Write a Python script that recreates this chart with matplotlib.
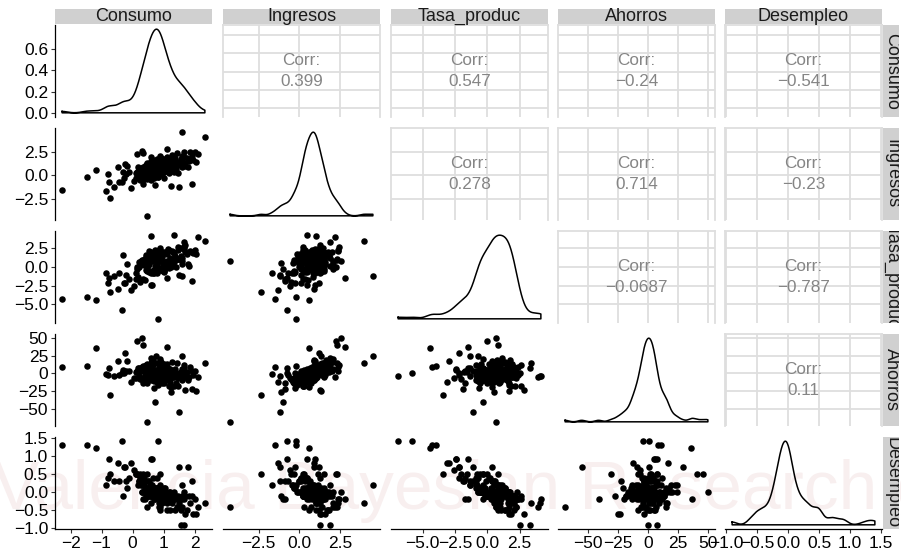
import numpy as np
import matplotlib
matplotlib.use("Agg")
import matplotlib.pyplot as plt

plt.rcParams['font.family'] = ['Liberation Sans', 'DejaVu Sans']

variables = ["Consumo", "Ingresos", "Tasa_produc", "Ahorros", "Desempleo"]

consumo = [
    0.62, 0.46, 0.88, -0.27, 1.90, 0.91, 0.79, 1.65, 1.32, 1.68, 1.12, 1.85, 1.45, 0.62, 0.30, -0.18, -0.45, 0.10,
    -2.27, -1.47, -1.18, -0.35, 0.83, 0.45, 1.60, 2.33, 2.10, -0.86, -0.77, -0.73, -0.80, -0.47, -0.25, -0.30,
    0.15, 0.30, 0.35, 1.10, 0.73, 1.50, 1.90, 1.25, 1.55, 1.65, 1.80, 0.60, 1.95, 0.60, 2.00, -0.60,
    -0.10, 0.05, -0.20, 0.25, 0.40, -0.05, 0.60, 0.18, 1.00, 0.35,
    0.95, 0.70, 1.20, 0.55, 0.85, 1.05, 0.40, 0.75, 1.35, 0.65,
    0.90, 0.50, 1.10, 0.80, 0.30, 1.45, 0.72, 0.98, 0.60, 1.25,
    0.45, 0.88, 1.60, 0.35, 0.78, 1.15, 0.58, 0.92, 0.20, 1.02,
    0.68, 1.38, 0.82, 0.48, 1.28, 0.62, 1.08, 0.85, 0.25, 1.75,
    0.74, 0.96, 0.55, 1.18, 0.42, 0.88, 1.50, 0.66, 0.80, 1.00,
    0.15, 1.22, 0.70, 0.92, 1.40, 0.52, 0.86, 1.12, 0.36, 0.76,
    1.55, 0.64, 0.98, 0.44, 1.30, 0.83, 0.10, 1.06, 0.58, 0.90,
    1.70, 0.72, 0.32, 1.16, 0.86, 0.50, 1.42, 0.68, 1.00, 0.80,
    0.60, 1.24, 0.94, 0.40, 1.60, 0.74, 1.08, 0.54, 0.88, 1.32,
    0.22, 0.78, 1.04, 0.62, 1.48, 0.84, 0.46, 1.20, 0.96, 0.70,
    1.82, 0.56, 0.90, 1.14, 0.38, 0.76, 1.36, 0.66, 1.02, 0.50,
    1.26, 0.82, 0.28, 1.58, 0.92, 0.60, 1.10, 0.72, 0.98, 1.66,
    0.44, 0.86, 1.18, 0.64, 2.05, 0.80, 0.54,
]

ingresos = [
    0.97, 1.17, 1.55, -0.26, 1.99, 1.45, 0.53, 1.16, 0.46, 1.03, 1.45, 2.40, 0.20, 1.05, 0.65, 0.95, -0.70, 0.25,
    -1.50, -0.20, 0.60, -0.75, -0.20, -4.27, 4.54, 4.00, 2.20, -1.70, -0.75, -2.35, 0.10, 0.90, 1.20, 0.30,
    2.25, 2.60, 2.30, 2.80, -1.00, -1.20, -0.90, -1.10, 1.30, 1.90, 0.90, 0.50, 1.60, 1.00, 2.40, -1.20,
    0.35, -0.60, 0.10, -0.50, 0.55, -1.30, -0.45, 0.85, -0.30, -0.90,
    1.10, 0.45, 1.60, 0.80, 0.30, 1.35, 0.95, 0.60, 0.85, 1.25,
    0.70, 0.15, 1.90, 0.95, 0.55, 1.05, 0.35, 1.55, 0.75, 0.60,
    -0.35, 1.20, 1.45, 0.90, 0.50, 0.95, 1.40, 0.25, 0.00, 1.75,
    0.85, 1.30, -0.15, 0.60, 2.10, 0.20, 0.75, 1.05, 0.45, 1.85,
    0.90, 0.40, 1.15, 1.50, -0.10, 0.65, 1.20, 1.65, 0.10, 0.90,
    0.30, 0.55, 1.00, 1.85, 0.70, 0.80, 0.35, 1.25, -0.40, 1.35,
    1.70, 0.50, 0.80, 1.05, 1.10, 0.60, -0.30, 1.45, 0.25, 1.10,
    1.25, 0.70, 0.80, 0.45, 1.60, 0.35, 2.30, 0.05, 1.20, 0.85,
    1.90, 0.95, 0.15, 0.70, 2.05, 1.15, 0.50, 0.95, 1.45, 0.30,
    0.65, 0.10, 1.60, 0.90, 1.40, 0.70, 1.25, 0.60, 0.95, -0.25,
    1.55, 0.45, 2.05, 0.80, 0.10, 0.55, 1.80, 1.05, 0.35, 0.70,
    1.35, 1.20, -0.20, 0.90, 0.60, 1.50, 1.05, 0.25, 1.30, 2.45,
    0.40, 0.95, 0.20, 0.85, 1.35, 1.70, -0.05,
]

produccion = [
    -2.45, -0.55, -0.36, -2.19, 1.91, 0.90, 0.31, 2.29, 4.15, 1.89, 1.60, 2.10, 2.60, 1.40, 0.50, 0.40, -0.90, -1.60,
    -4.30, -4.00, -4.40, -5.80, -6.90, 0.70, -1.30, 3.40, 3.90, -0.80, -1.50, -3.40, -2.20, -3.00, -2.20, 1.50,
    0.00, 0.70, 0.85, -1.50, -0.30, -1.10, -1.90, 0.50, 2.50, 3.30, 0.40, -2.40, 1.80, 4.10, 2.20, -1.30,
    -1.70, -2.60, -1.10, -2.00, -1.80, -3.10, -0.90, -1.35, -0.60, -1.70,
    1.95, -0.40, 0.35, 1.30, 2.20, -0.15, 0.80, 1.95, 0.60, -0.90,
    1.65, 0.75, 0.10, -0.80, 0.40, 1.05, 2.15, -0.55, 1.50, 0.35,
    0.90, 2.10, 1.20, 0.55, -0.75, 2.35, 1.25, -0.50, -0.10, 1.95,
    -0.85, 0.85, 1.70, 1.00, 0.50, 1.45, 0.05, 1.60, 0.25, 1.60,
    -0.40, 1.50, 0.95, 0.40, 1.25, -0.30, 1.00, 1.75, 0.95, -0.15,
    -0.35, 0.20, 1.85, 1.40, 0.00, 2.10, 0.80, 0.65, 0.50, -0.75,
    1.35, 1.20, 0.15, 1.55, 1.90, -0.35, -0.80, 0.30, 1.95, 1.35,
    2.85, 0.05, 0.85, -0.25, 1.80, 0.55, 0.95, 1.60, -0.45, 0.50,
    1.15, -0.10, 1.70, 1.05, 0.70, 1.25, 0.25, -0.70, 2.40, 1.80,
    0.60, -0.30, 0.55, 0.75, 2.20, 1.50, -0.50, 1.10, 1.30, -0.65,
    0.10, 0.90, -0.35, 2.25, 0.15, 1.85, 1.40, 1.45, -0.75, 0.05,
    2.00, -0.25, 0.80, 0.40, 1.55, 1.00, 0.80, 1.35, 0.10, 2.60,
    -0.40, 1.10, 2.15, -0.60, 1.65, 1.60, 0.35,
]

ahorros = [
    4.8, 7.3, 7.3, 1.0, 3.7, 6.1, -0.4, -1.5, -4.4, -5.1, 8.5, 9.0, -18.0, 5.5, 3.5, 17.5, -3.0, 1.5,
    8.4, 11.0, 36.0, 1.0, -4.0, -68.8, 24.0, 15.0, -5.0, -1.4, 8.0, -31.0, -3.0, 17.0, 29.0, 5.0,
    46.0, 50.0, 41.0, 37.0, -41.0, -55.0, -22.0, -27.0, 0.0, 8.0, -9.0, 6.0, -3.0, -4.0, 3.0, -3.5,
    4.0, -6.5, 2.8, -8.0, 1.5, -12.0, -9.5, 7.0, -13.0, -13.5,
    3.4, -3.8, 6.4, 5.1, -6.0, 4.5, 10.9, -2.4, -5.5, 12.0,
    -3.2, -0.9, 13.1, 2.6, 4.6, -7.2, -4.6, 9.6, 2.9, -19.5,
    -13.6, 5.0, -2.9, 10.4, 0.4, -3.0, 15.2, -11.5, -3.5, 12.8,
    3.5, -1.3, -16.8, 2.4, 15.7, -6.8, 0.8, 4.4, 4.0, 1.3,
    3.0, -9.6, 10.9, 6.0, -7.5, -4.0, 1.2, 18.4, -12.5, -1.6,
    2.9, -12.0, 5.2, 16.3, -14.1, -0.7, -7.8, 1.9, -12.8, 24.5,
    1.6, -2.6, -3.4, 11.4, -4.5, -0.4, -6.6, 6.6, 0.1, 3.8,
    -23.0, -0.3, 8.6, -9.0, 13.8, 0.5, 15.0, -11.2, 3.4, 0.8,
    22.4, -5.2, -14.2, 5.1, 6.8, 1.6, -8.4, 0.7, 9.6, -17.9,
    7.4, -9.3, 9.0, 19.0, -1.6, -2.4, 13.8, -8.0, -0.2, -20.5,
    -4.8, -1.8, 20.2, 0.3, -5.0, -3.5, 6.4, -2.0, -10.5, 3.2,
    1.3, 6.2, -8.3, -8.8, 0.2, 14.9, -1.0, -6.2, 5.6, 12.2,
    -0.6, 1.4, -17.3, 3.7, -25.0, 14.7, -1.3,
]

desempleo = [
    0.9, 0.5, 0.5, 0.7, -0.1, -0.1, 0.1, 0.0, -0.2, -0.1, -0.2, -0.3, -0.1, -0.1, 0.0, 0.1, 0.3, 0.5,
    1.3, 1.3, 1.2, 1.4, 1.4, -0.4, 0.2, -0.3, -0.4, 0.2, 0.9, 0.5, 0.4, 0.8, 0.7, -0.1,
    0.5, 0.0, 0.5, -0.2, -0.2, 0.7, 0.3, -0.1, -0.9, -0.9, 0.7, 0.9, -0.6, -0.3, -0.2, 0.3,
    0.4, 0.6, 0.3, 0.5, 0.3, 0.8, 0.2, 0.2, 0.1, -0.2,
    -0.3, 0.1, -0.1, 0.0, -0.4, 0.1, -0.2, -0.1, 0.0, 0.4,
    -0.4, 0.0, -0.1, 0.1, 0.3, -0.2, -0.1, 0.0, -0.1, -0.2,
    0.1, -0.5, -0.1, 0.0, 0.4, -0.2, 0.0, 0.0, 0.3, -0.1,
    0.1, -0.2, 0.0, -0.1, -0.3, 0.0, -0.1, -0.3, 0.4, -0.5,
    0.0, -0.1, 0.2, -0.1, 0.0, 0.2, -0.3, 0.0, 0.0, -0.1,
    0.5, 0.0, -0.2, 0.0, -0.1, -0.1, 0.1, -0.3, 0.2, 0.0,
    -0.5, 0.0, -0.1, -0.1, -0.2, 0.1, 0.5, -0.2, -0.1, 0.1,
    -0.6, 0.0, 0.2, 0.0, -0.1, 0.3, -0.4, 0.0, 0.0, -0.1,
    0.2, -0.1, 0.0, 0.1, -0.4, 0.0, -0.1, 0.1, -0.2, -0.1,
    0.3, 0.0, -0.2, 0.2, -0.4, 0.0, 0.0, -0.5, 0.0, 0.1,
    -0.1, 0.1, 0.0, -0.2, 0.4, -0.1, -0.5, 0.0, 0.0, -0.1,
    -0.1, 0.0, 0.2, -0.2, 0.0, 0.1, -0.5, 0.1, -0.1, -0.2,
    0.0, 0.1, -0.1, 0.0, -0.6, 0.0, 0.3,
]

# Correlation labels shown in the upper triangle (row, col, value)
corr_rows = [0, 0, 0, 0, 1, 1, 1, 2, 2, 3]
corr_cols = [1, 2, 3, 4, 2, 3, 4, 3, 4, 4]
corr_values = [0.399, 0.547, -0.24, -0.541, 0.278, 0.714, -0.23, -0.0687, -0.787, 0.11]

# Axis breaks per variable and for the density scale of the first row
breaks = [[-2, -1, 0, 1, 2], [-2.5, 0.0, 2.5], [-5.0, -2.5, 0.0, 2.5],
          [-50, -25, 0, 25, 50], [-1.0, -0.5, 0.0, 0.5, 1.0, 1.5]]
break_fmt = ["{:.0f}", "{:.1f}", "{:.1f}", "{:.0f}", "{:.1f}"]
density_breaks = [0.0, 0.2, 0.4, 0.6]

data = [np.array(v, dtype=float) for v in (consumo, ingresos, produccion, ahorros, desempleo)]

W, H = 901, 555
fig = plt.figure(figsize=(W / 100, H / 100), dpi=100)
fig.patch.set_facecolor("white")

# faint watermark behind the panels
fig.text(-0.008, 0.083, "Valencia Bayesian Research group", fontsize=50,
         color="#f8efef", ha="left", va="baseline", zorder=-5)

col_x = [55, 223, 391, 558, 725]
row_y = [25, 128, 231, 334, 437]
pw, ph = 157, 92
strip_color = "#d0d0d0"
grid_color = "#dedede"
fs = 12.5


def px_axes(x0, y0, w, h):
    return fig.add_axes([x0 / W, 1 - (y0 + h) / H, w / W, h / H])


def fmt(v, f):
    return f.format(v).replace("-", "\u2212")


def limits(v):
    lo, hi = v.min(), v.max()
    pad = 0.05 * (hi - lo)
    return lo - pad, hi + pad


def kde(v):
    n = len(v)
    sd = v.std(ddof=1)
    iqr = np.subtract(*np.percentile(v, [75, 25]))
    bw = 0.9 * min(sd, iqr / 1.34) * n ** (-0.2)
    xs = np.linspace(v.min(), v.max(), 512)
    ys = np.exp(-0.5 * ((xs[:, None] - v[None, :]) / bw) ** 2).sum(axis=1) / (n * bw * np.sqrt(2 * np.pi))
    return xs, ys


lims = [limits(v) for v in data]

for r in range(5):
    for c in range(5):
        ax = px_axes(col_x[c], row_y[r], pw, ph)
        ax.set_facecolor("none")
        for s in ax.spines.values():
            s.set_visible(False)
        ax.set_xlim(lims[c])
        ax.tick_params(axis="both", which="both", length=0, labelleft=False, labelbottom=False)
        ax.set_xticks(breaks[c])
        if r == c:
            xs, ys = kde(data[c])
            top = ys.max()
            ax.set_ylim(-0.05 * top, 1.05 * top)
            ax.plot(np.r_[xs, xs[-1], xs[0], xs[0]], np.r_[ys, 0, 0, ys[0]],
                    color="black", lw=1.1, solid_joinstyle="round")
            ax.set_yticks(density_breaks if r == 0 else [])
        elif r > c:
            ax.set_ylim(lims[r])
            ax.set_yticks(breaks[r])
            ax.scatter(data[c], data[r], s=22, color="black", linewidths=0)
        else:
            ax.set_ylim(lims[r])
            ax.set_yticks(breaks[r])
            ax.grid(True, color=grid_color, lw=1.3)
            ax.set_axisbelow(True)
            for side in ("left", "right", "top"):
                ax.spines[side].set_visible(True)
                ax.spines[side].set_color(grid_color)
                ax.spines[side].set_linewidth(1.3)
            k = [i for i in range(len(corr_rows)) if corr_rows[i] == r and corr_cols[i] == c][0]
            ax.text(0.5, 0.5, "Corr:\n" + str(corr_values[k]).replace("-", "\u2212"),
                    transform=ax.transAxes, ha="center", va="center", fontsize=12.3,
                    color="#858585", linespacing=1.45)
        if c == 0:
            ax.spines["left"].set_visible(True)
            ax.spines["left"].set_color("black")
            ax.spines["left"].set_linewidth(0.9)
            ax.tick_params(axis="y", length=3, width=0.8, color="#333333", labelleft=True,
                           labelsize=fs, pad=2, labelcolor="black")
            if r == 0:
                ax.set_yticklabels([f"{b:.1f}" for b in density_breaks])
            else:
                ax.set_yticklabels([fmt(b, break_fmt[r]) for b in breaks[r]])
        if r == 4:
            ax.spines["bottom"].set_visible(True)
            ax.spines["bottom"].set_color("black")
            ax.spines["bottom"].set_linewidth(0.9)
            ax.tick_params(axis="x", length=3, width=0.8, color="#333333", labelbottom=True,
                           labelsize=fs, pad=2, labelcolor="black")
            ax.set_xticklabels([fmt(b, break_fmt[c]) for b in breaks[c]])

# facet strips along the top and the right side
for c in range(5):
    sa = px_axes(col_x[c], 9, pw, 15)
    sa.set_facecolor(strip_color)
    sa.set_xticks([]); sa.set_yticks([])
    for s in sa.spines.values():
        s.set_visible(False)
    sa.text(0.5, 0.2, variables[c], transform=sa.transAxes, ha="center", va="baseline",
            fontsize=fs + 0.5, color="#1a1a1a", clip_on=False)

for r in range(5):
    sa = px_axes(883, row_y[r], 16, ph)
    sa.set_facecolor(strip_color)
    sa.set_xticks([]); sa.set_yticks([])
    for s in sa.spines.values():
        s.set_visible(False)
    sa.text(0.55, 0.5, variables[r], transform=sa.transAxes, ha="center", va="center",
            rotation=-90, fontsize=fs + 0.5, color="#1a1a1a", clip_on=True)

fig.savefig("out.png", dpi=100)
